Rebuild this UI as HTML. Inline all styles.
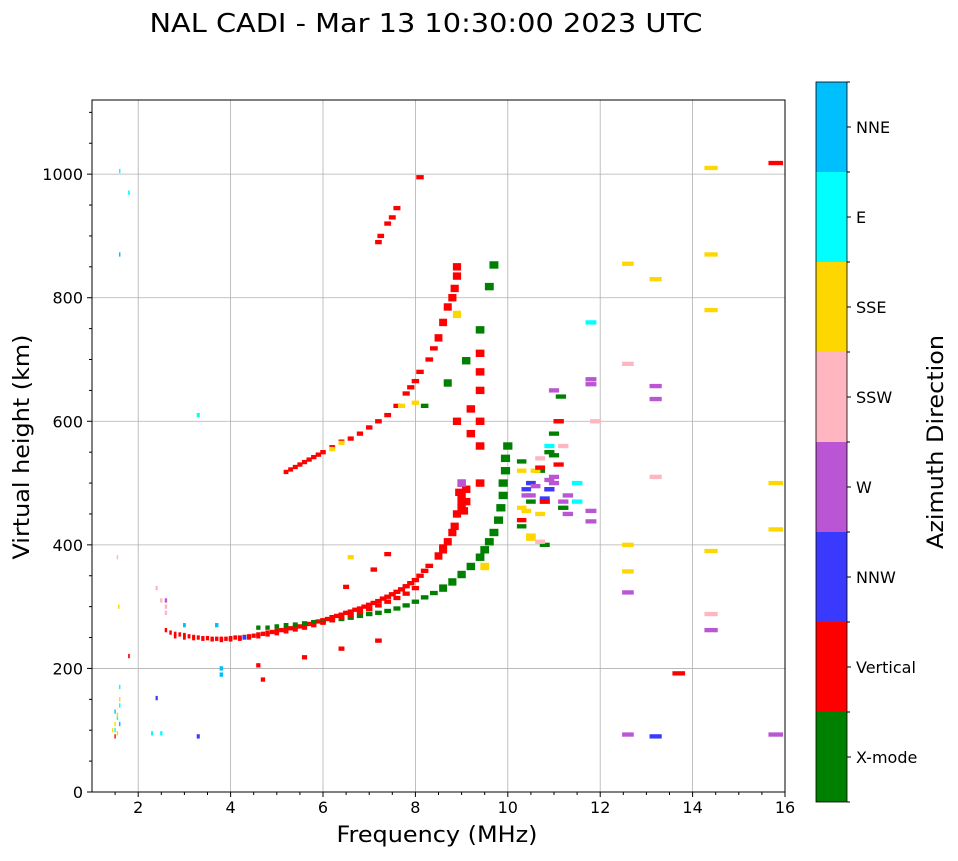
<!DOCTYPE html>
<html><head><meta charset="utf-8"><style>
body{margin:0;background:#fff;font-family:"DejaVu Sans",sans-serif}
svg text{font-family:"DejaVu Sans",sans-serif}
</style></head><body>
<svg id="c" width="958" height="857" xmlns="http://www.w3.org/2000/svg">
<text x="426" y="32" font-size="26" text-anchor="middle" textLength="553" lengthAdjust="spacingAndGlyphs">NAL CADI - Mar 13 10:30:00 2023 UTC</text>
<g id="grid"></g>
<g id="marks"></g>
<g id="axes"></g>
<g id="cbar"></g>
<text x="437" y="842" font-size="22" text-anchor="middle" textLength="201" lengthAdjust="spacingAndGlyphs">Frequency (MHz)</text>
<text transform="translate(29,447) rotate(-90)" font-size="22" text-anchor="middle" textLength="225" lengthAdjust="spacingAndGlyphs">Virtual height (km)</text>
<text transform="translate(943,442) rotate(-90)" font-size="22" text-anchor="middle" textLength="214" lengthAdjust="spacingAndGlyphs">Azimuth Direction</text>
</svg>
<script>
const xTicks=[2,4,6,8,10,12,14,16];
const yTicks=[0,200,400,600,800,1000];
const directions=["X-mode","Vertical","NNW","W","SSW","SSE","E","NNE"];
const dirColors=["#008000","#ff0000","#3a3aff","#ba55d3","#ffb6c1","#ffd700","#00ffff","#00bfff"];
const freqs=[2.6,2.7,2.8,2.9,3.0,3.1,3.2,3.3,3.4,3.5,3.6,3.7,3.8,3.9,4.0,4.1,4.2,4.3,4.4,4.5,4.6,4.7,4.8,4.9,5.0,5.1,5.2,5.3,5.4,5.5,5.6,5.7,5.8,5.9,6.0,6.1,6.2,6.3,6.4,6.5,6.6,6.7,6.8,6.9,7.0,7.1,7.2,7.3,7.4,7.5,7.6,7.7,7.8,7.9,8.0,8.1,8.2,8.3,8.5,8.6,8.7,8.8,8.85,8.9,9.0,9.0,9.1,
4.6,4.7,5.6,6.4,6.5,7.1,7.4,8.6,7.2,
4.6,4.8,5.0,5.2,5.4,5.6,5.8,6.0,6.2,6.4,6.6,6.8,7.0,7.2,7.4,7.6,7.8,8.0,8.2,8.4,8.6,8.8,9.0,9.2,9.4,9.5,9.6,9.7,9.8,9.85,9.9,9.9,9.95,9.95,10,8.7,8.2,9.1,9.4,9.7,9.6,10.3,10.5,10.7,10.9,11.0,11.1,11.15,10.8,
5.2,5.3,5.4,5.5,5.6,5.7,5.8,5.9,6.0,6.2,6.4,6.6,6.8,7.0,7.2,7.4,7.6,7.8,7.9,8.0,8.1,8.3,8.4,8.5,8.6,8.7,8.8,8.85,8.9,8.9,9.0,9.0,9.2,9.2,9.4,9.4,9.4,9.4,9.4,9.4,7.2,7.25,7.4,7.5,7.6,8.1,8.9,
6.6,8.9,12.6,13.2,14.4,14.4,14.4,15.8,15.8,14.4,12.6,12.6,9.5,10.3,10.5,10.7,8.0,7.7,6.2,6.4,
12.6,14.4,15.8,12.6,11.8,11.8,13.2,13.2,9.0,10.5,11.0,11.2,11.3,11.8,11.8,11.0,2.6,
13.2,10.8,10.4,2.4,4.3,3.3,
12.6,13.2,14.4,2.4,2.5,2.6,2.6,1.55,11.9,
11.8,10.9,11.5,11.5,3.3,1.6,1.8,1.6,1.55,1.5,1.6,2.5,2.3,
1.6,1.5,1.6,3.8,3.8,3.0,3.7,
1.5,1.8,13.7,15.8,
1.45,1.55,1.6,1.55,1.5,1.58,
2.8,3.0,3.2,3.4,3.6,3.8,4.0,4.2,4.4,4.6,4.8,5.0,5.2,5.4,5.6,5.8,6.0,6.2,6.4,6.6,6.8,7.0,7.2,7.4,7.6,7.8,8.0,9.05,9.1,8.95,
10.3,10.4,10.5,10.6,10.7,10.8,10.9,11.0,11.1,11.2,11.3,10.3,10.5,10.7,10.9,11.1,10.4,10.6,10.8,11.0,11.2,10.3,10.5,10.7,10.9];
const heights=[262,258,256,255,254,252,251,250,249,249,248,248,248,248,249,250,250,251,252,253,255,256,258,259,261,262,264,265,267,268,270,272,274,276,278,280,283,285,287,290,292,295,297,300,303,306,309,313,316,320,324,328,333,338,343,350,358,366,382,392,405,420,430,450,470,480,490,
205,182,218,232,332,360,385,395,245,
266,266,268,270,271,273,275,276,278,280,282,285,288,290,293,297,302,308,315,322,330,340,352,365,380,392,405,420,440,460,480,500,520,540,560,662,625,698,748,853,818,430,470,520,550,580,600,640,400,
518,522,526,530,534,538,542,546,550,558,567,572,580,590,600,610,625,645,655,665,680,700,718,735,760,785,800,815,835,850,500,460,580,620,600,650,680,710,560,500,890,900,920,930,945,995,600,
380,773,855,830,1010,870,780,500,425,390,400,357,365,520,500,450,630,625,555,565,
323,262,93,93,660,668,657,636,500,480,500,470,450,455,438,650,310,
90,475,490,152,250,90,
693,510,288,330,310,300,290,380,600,
760,560,470,500,610,1005,970,170,120,100,140,95,95,
870,130,110,200,190,270,270,
90,220,192,1018,
100,95,150,125,110,300,
252,250,249,248,247,246,247,248,250,252,255,257,260,263,266,270,274,278,282,286,291,296,302,308,314,321,330,455,470,485,
460,480,500,520,540,470,490,510,530,460,480,440,410,405,490,600,455,495,470,545,560,535,415,525,505];
const dirs=[].concat(Array(67).fill(1),Array(9).fill(1),Array(49).fill(0),Array(47).fill(1),Array(20).fill(5),Array(17).fill(3),Array(6).fill(2),Array(9).fill(4),Array(13).fill(6),Array(7).fill(7),Array(4).fill(1),Array(6).fill(5),Array(30).fill(1),
[5,3,2,5,4,0,1,3,1,0,3,1,5,4,2,1,5,3,1,0,4,0,5,1,3]);

const NS="http://www.w3.org/2000/svg";
const L=92,R=785,T=100,B=792;
const xS=f=>L+(f-1)/15*(R-L);
const yS=h=>B-h/1120*(B-T);
function mk(tag,attrs,parent){const e=document.createElementNS(NS,tag);for(const k in attrs)e.setAttribute(k,attrs[k]);parent.appendChild(e);return e;}
const grid=document.getElementById('grid'),axes=document.getElementById('axes'),marks=document.getElementById('marks'),cbar=document.getElementById('cbar');
xTicks.forEach(t=>{const x=xS(t);
 if(t<16){const g=mk('line',{x1:x,x2:x,y1:T,y2:B,stroke:'#b0b0b0','stroke-width':0.8},grid);}
 mk('line',{x1:x,x2:x,y1:B,y2:B+5,stroke:'#000'},axes);
 const tx=mk('text',{x:x,y:B+21,'font-size':16,'text-anchor':'middle'},axes);tx.textContent=t;
 });
for(let f=1.5;f<16;f+=0.5){if(f%2)mk('line',{x1:xS(f),x2:xS(f),y1:B,y2:B+3,stroke:'#000'},axes);}
yTicks.forEach(t=>{const y=yS(t);
 if(t>0){const g=mk('line',{x1:L,x2:R,y1:y,y2:y,stroke:'#b0b0b0','stroke-width':0.8},grid);}
 mk('line',{x1:L-5,x2:L,y1:y,y2:y,stroke:'#000'},axes);
 const tx=mk('text',{x:L-9,y:y+6,'font-size':16,'text-anchor':'end'},axes);tx.textContent=t;
 });
for(let h=50;h<1120;h+=50){if(h%200)mk('line',{x1:L-3,x2:L,y1:yS(h),y2:yS(h),stroke:'#000'},axes);}
mk('rect',{x:L,y:T,width:R-L,height:B-T,fill:'none',stroke:'#000','stroke-width':1},axes);
for(let i=0;i<freqs.length;i++){
 const f=freqs[i],h=heights[i],w=0.02*f,hh=(f>8.4&&f<10.1)?12:7;
 const r=mk('rect',{x:xS(f-w/2),y:yS(h+hh/2),width:xS(f+w/2)-xS(f-w/2),height:yS(h-hh/2)-yS(h+hh/2),fill:dirColors[dirs[i]]},marks);
 
 
}
const cx=816,cw=31,ct=82,cb=802,seg=(cb-ct)/directions.length;
directions.forEach((d,i)=>{const y=cb-(i+1)*seg;
 const r=mk('rect',{x:cx,y:y,width:cw,height:seg,fill:dirColors[i]},cbar);
 
 mk('line',{x1:cx+cw,x2:cx+cw+4,y1:y+seg/2,y2:y+seg/2,stroke:'#000'},cbar);
 const t=mk('text',{x:cx+cw+9,y:y+seg/2+6,'font-size':16},cbar);t.textContent=d;
 });
for(let i=0;i<=directions.length;i++)mk('line',{x1:cx+cw,x2:cx+cw+3,y1:ct+i*seg,y2:ct+i*seg,stroke:'#000'},cbar);
mk('rect',{x:cx,y:ct,width:cw,height:cb-ct,fill:'none',stroke:'#000','stroke-width':0.8},cbar);
</script>
</body></html>
